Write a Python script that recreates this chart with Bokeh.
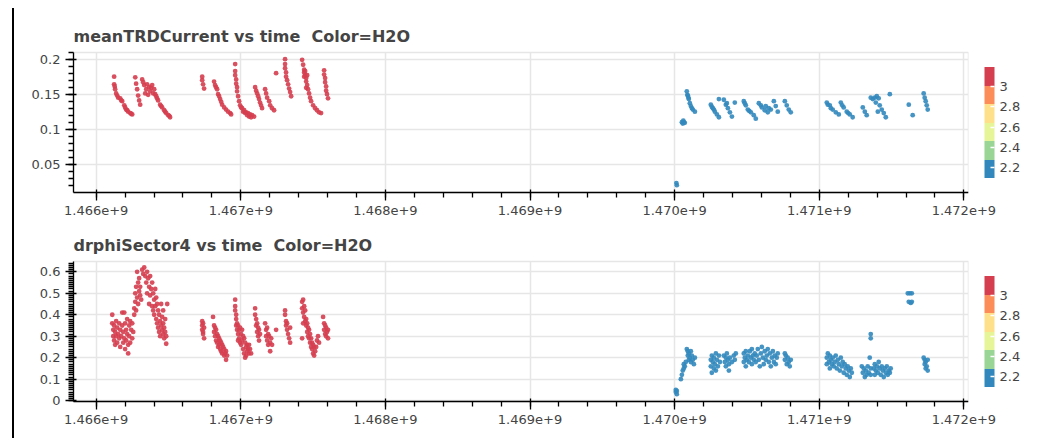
from bokeh.plotting import figure
from bokeh.models import (LinearColorMapper, ColorBar, Range1d, SingleIntervalTicker,
                          ColumnDataSource, Spacer)
from bokeh.layouts import column, row
from bokeh.palettes import Spectral6
from bokeh.embed import file_html
from bokeh.resources import INLINE

# time values are written in units of 1e6 s
TIME_UNIT = 1e6

# H2O level of each of the two runs, and the colour scale limits
H2O_RUN1 = 3.195
H2O_RUN2 = 2.095
H2O_LOW = 2.095
H2O_HIGH = 3.195

x_ticks_interval = 1e6

# meanTRDCurrent, run 1 (time, value)
current_run1 = [
    (1466.124, 0.176), (1466.124, 0.165), (1466.128, 0.162), (1466.131, 0.158), (1466.138, 0.152),
    (1466.145, 0.149), (1466.152, 0.146), (1466.166, 0.145), (1466.173, 0.142), (1466.180, 0.141),
    (1466.194, 0.135), (1466.200, 0.132), (1466.207, 0.129), (1466.214, 0.128), (1466.221, 0.126),
    (1466.235, 0.124), (1466.242, 0.123), (1466.249, 0.122),
    (1466.270, 0.175), (1466.276, 0.166), (1466.283, 0.158), (1466.290, 0.149), (1466.297, 0.142),
    (1466.304, 0.136),
    (1466.318, 0.172), (1466.325, 0.168), (1466.332, 0.164), (1466.339, 0.152), (1466.346, 0.158),
    (1466.352, 0.165), (1466.359, 0.150), (1466.366, 0.161), (1466.373, 0.155), (1466.380, 0.160),
    (1466.387, 0.164), (1466.394, 0.152), (1466.401, 0.158), (1466.408, 0.151), (1466.415, 0.148),
    (1466.421, 0.145), (1466.428, 0.142), (1466.442, 0.136), (1466.449, 0.134), (1466.456, 0.132),
    (1466.470, 0.128), (1466.477, 0.126), (1466.484, 0.124), (1466.498, 0.121), (1466.505, 0.120),
    (1466.511, 0.118),
    (1466.733, 0.176), (1466.733, 0.171), (1466.739, 0.165), (1466.746, 0.159),
    (1466.815, 0.169), (1466.822, 0.164), (1466.829, 0.161), (1466.836, 0.158), (1466.843, 0.151),
    (1466.850, 0.148), (1466.857, 0.144), (1466.864, 0.140), (1466.871, 0.136), (1466.885, 0.132),
    (1466.898, 0.129), (1466.912, 0.126), (1466.926, 0.124), (1466.933, 0.122),
    (1466.961, 0.194), (1466.961, 0.184), (1466.961, 0.178), (1466.968, 0.172), (1466.968, 0.166),
    (1466.974, 0.161), (1466.974, 0.155), (1466.981, 0.148), (1466.988, 0.141), (1466.995, 0.135),
    (1467.002, 0.132), (1467.009, 0.131), (1467.016, 0.126), (1467.023, 0.128), (1467.030, 0.124),
    (1467.037, 0.125), (1467.044, 0.121), (1467.050, 0.124), (1467.057, 0.119), (1467.064, 0.122),
    (1467.071, 0.118), (1467.078, 0.121), (1467.092, 0.119),
    (1467.099, 0.161), (1467.106, 0.156), (1467.113, 0.152), (1467.120, 0.148), (1467.126, 0.144),
    (1467.133, 0.139), (1467.140, 0.135), (1467.147, 0.131),
    (1467.168, 0.158), (1467.175, 0.152), (1467.182, 0.146), (1467.196, 0.141), (1467.203, 0.135),
    (1467.216, 0.131), (1467.230, 0.128),
    (1467.244, 0.181),
    (1467.306, 0.201), (1467.306, 0.194), (1467.306, 0.188), (1467.313, 0.182), (1467.313, 0.176),
    (1467.320, 0.171), (1467.327, 0.165), (1467.334, 0.159), (1467.341, 0.154), (1467.348, 0.148),
    (1467.424, 0.200), (1467.431, 0.193), (1467.438, 0.186), (1467.438, 0.182), (1467.438, 0.176),
    (1467.445, 0.184), (1467.445, 0.178), (1467.452, 0.174), (1467.452, 0.169), (1467.452, 0.160),
    (1467.459, 0.178), (1467.459, 0.164), (1467.465, 0.158), (1467.472, 0.152), (1467.479, 0.146),
    (1467.486, 0.141), (1467.500, 0.135), (1467.514, 0.131), (1467.527, 0.128), (1467.541, 0.125),
    (1467.555, 0.124),
    (1467.576, 0.185), (1467.576, 0.179), (1467.583, 0.174), (1467.583, 0.168), (1467.590, 0.162),
    (1467.590, 0.156), (1467.596, 0.151), (1467.603, 0.145),
]

# meanTRDCurrent, run 2 (time, value)
current_run2 = [
    (1470.015, 0.021), (1470.012, 0.024),
    (1470.050, 0.111), (1470.056, 0.109), (1470.063, 0.111), (1470.070, 0.110), (1470.060, 0.113),
    (1470.084, 0.155), (1470.088, 0.150), (1470.091, 0.149), (1470.095, 0.146), (1470.098, 0.144),
    (1470.105, 0.138), (1470.112, 0.134), (1470.119, 0.131), (1470.126, 0.129), (1470.140, 0.126),
    (1470.250, 0.136), (1470.257, 0.133), (1470.264, 0.131), (1470.271, 0.129), (1470.278, 0.126),
    (1470.292, 0.122), (1470.306, 0.118), (1470.306, 0.144),
    (1470.340, 0.143), (1470.354, 0.136), (1470.361, 0.138), (1470.368, 0.131), (1470.382, 0.125),
    (1470.396, 0.119), (1470.416, 0.139),
    (1470.478, 0.141), (1470.485, 0.138), (1470.492, 0.135), (1470.506, 0.129), (1470.516, 0.127),
    (1470.527, 0.125), (1470.547, 0.121), (1470.561, 0.116),
    (1470.582, 0.138), (1470.596, 0.135), (1470.603, 0.132), (1470.623, 0.128), (1470.630, 0.134),
    (1470.644, 0.125), (1470.651, 0.131), (1470.665, 0.129),
    (1470.686, 0.141), (1470.699, 0.134), (1470.713, 0.126),
    (1470.762, 0.141), (1470.775, 0.135), (1470.789, 0.129), (1470.803, 0.125),
    (1471.052, 0.139), (1471.059, 0.136), (1471.073, 0.135), (1471.080, 0.131), (1471.093, 0.129),
    (1471.114, 0.125), (1471.135, 0.122),
    (1471.149, 0.139), (1471.159, 0.135), (1471.169, 0.132), (1471.190, 0.126), (1471.200, 0.124),
    (1471.211, 0.122), (1471.231, 0.118),
    (1471.301, 0.132), (1471.315, 0.126), (1471.328, 0.121),
    (1471.356, 0.146), (1471.370, 0.144), (1471.384, 0.146), (1471.391, 0.139), (1471.398, 0.148),
    (1471.405, 0.126), (1471.411, 0.145), (1471.418, 0.135), (1471.432, 0.129), (1471.446, 0.124),
    (1471.460, 0.118),
    (1471.488, 0.151), (1471.619, 0.136), (1471.646, 0.121),
    (1471.722, 0.152), (1471.729, 0.146), (1471.736, 0.141), (1471.743, 0.135), (1471.750, 0.129),
]

# drphiSector4, run 1 (time, value)
drphi_run1 = [
    (1466.111, 0.40), (1466.111, 0.36), (1466.118, 0.33), (1466.118, 0.30), (1466.124, 0.35),
    (1466.124, 0.28), (1466.131, 0.32), (1466.131, 0.26), (1466.138, 0.37), (1466.138, 0.30),
    (1466.145, 0.34), (1466.145, 0.27), (1466.152, 0.31), (1466.159, 0.36), (1466.159, 0.29),
    (1466.166, 0.33), (1466.166, 0.25), (1466.173, 0.30), (1466.180, 0.41), (1466.180, 0.35),
    (1466.187, 0.32), (1466.187, 0.27), (1466.194, 0.41), (1466.194, 0.29), (1466.200, 0.36),
    (1466.200, 0.24), (1466.207, 0.33), (1466.207, 0.28), (1466.214, 0.38), (1466.214, 0.31),
    (1466.221, 0.26), (1466.221, 0.22), (1466.228, 0.35), (1466.228, 0.30), (1466.235, 0.37),
    (1466.235, 0.27), (1466.242, 0.33), (1466.249, 0.36), (1466.249, 0.29), (1466.256, 0.32),
    (1466.263, 0.40), (1466.263, 0.43), (1466.270, 0.46), (1466.270, 0.50), (1466.276, 0.53),
    (1466.276, 0.42), (1466.283, 0.60), (1466.283, 0.48), (1466.290, 0.55), (1466.290, 0.45),
    (1466.297, 0.51), (1466.297, 0.57), (1466.304, 0.49), (1466.304, 0.53), (1466.311, 0.47),
    (1466.318, 0.61), (1466.325, 0.59), (1466.332, 0.62), (1466.339, 0.58), (1466.346, 0.55),
    (1466.352, 0.60), (1466.352, 0.50), (1466.359, 0.57), (1466.366, 0.53), (1466.366, 0.45),
    (1466.373, 0.58), (1466.373, 0.49), (1466.380, 0.52), (1466.387, 0.55), (1466.387, 0.44),
    (1466.394, 0.50), (1466.394, 0.42), (1466.401, 0.47), (1466.401, 0.40), (1466.408, 0.52),
    (1466.408, 0.44), (1466.415, 0.48), (1466.415, 0.38), (1466.421, 0.45), (1466.421, 0.36),
    (1466.428, 0.42), (1466.428, 0.34), (1466.435, 0.40), (1466.435, 0.32), (1466.442, 0.37),
    (1466.442, 0.30), (1466.449, 0.35), (1466.449, 0.45), (1466.456, 0.33), (1466.456, 0.39),
    (1466.463, 0.31), (1466.463, 0.36), (1466.463, 0.42), (1466.470, 0.29), (1466.470, 0.34),
    (1466.477, 0.32), (1466.477, 0.38), (1466.484, 0.265), (1466.484, 0.30), (1466.491, 0.45),
    (1466.733, 0.37), (1466.733, 0.35), (1466.733, 0.33), (1466.739, 0.36), (1466.739, 0.32),
    (1466.739, 0.31), (1466.746, 0.34), (1466.746, 0.29),
    (1466.808, 0.39), (1466.815, 0.35), (1466.815, 0.32), (1466.822, 0.34), (1466.822, 0.30),
    (1466.829, 0.33), (1466.829, 0.28), (1466.836, 0.31), (1466.836, 0.27), (1466.843, 0.30),
    (1466.843, 0.25), (1466.850, 0.29), (1466.850, 0.26), (1466.857, 0.28), (1466.857, 0.24),
    (1466.864, 0.27), (1466.864, 0.23), (1466.871, 0.26), (1466.871, 0.22), (1466.878, 0.25),
    (1466.885, 0.24), (1466.885, 0.21), (1466.892, 0.22), (1466.898, 0.19), (1466.898, 0.23),
    (1466.905, 0.21),
    (1466.961, 0.47), (1466.961, 0.44), (1466.961, 0.42), (1466.968, 0.40), (1466.968, 0.38),
    (1466.968, 0.35), (1466.974, 0.36), (1466.974, 0.33), (1466.981, 0.35), (1466.981, 0.31),
    (1466.981, 0.28), (1466.988, 0.33), (1466.988, 0.29), (1466.995, 0.34), (1466.995, 0.27),
    (1467.002, 0.31), (1467.002, 0.26), (1467.009, 0.33), (1467.009, 0.28), (1467.016, 0.30),
    (1467.016, 0.24), (1467.023, 0.29), (1467.023, 0.22), (1467.030, 0.27), (1467.030, 0.20),
    (1467.037, 0.25), (1467.037, 0.21), (1467.044, 0.26), (1467.044, 0.23), (1467.050, 0.24),
    (1467.057, 0.22), (1467.057, 0.26), (1467.064, 0.24), (1467.071, 0.22),
    (1467.099, 0.43), (1467.099, 0.40), (1467.106, 0.38), (1467.106, 0.35), (1467.113, 0.36),
    (1467.113, 0.32), (1467.120, 0.34), (1467.120, 0.30), (1467.126, 0.33), (1467.126, 0.28),
    (1467.133, 0.31),
    (1467.168, 0.36), (1467.175, 0.33), (1467.175, 0.30), (1467.182, 0.34), (1467.182, 0.28),
    (1467.189, 0.31), (1467.189, 0.26), (1467.196, 0.30), (1467.203, 0.27), (1467.203, 0.23),
    (1467.210, 0.29), (1467.216, 0.26),
    (1467.244, 0.33),
    (1467.306, 0.42), (1467.306, 0.40), (1467.313, 0.37), (1467.313, 0.35), (1467.320, 0.36),
    (1467.320, 0.33), (1467.327, 0.31), (1467.334, 0.29), (1467.341, 0.34), (1467.341, 0.27),
    (1467.424, 0.46), (1467.431, 0.47), (1467.424, 0.43), (1467.431, 0.41), (1467.438, 0.44),
    (1467.438, 0.39), (1467.445, 0.42), (1467.445, 0.37), (1467.452, 0.38), (1467.452, 0.35),
    (1467.459, 0.36), (1467.459, 0.32), (1467.465, 0.34), (1467.465, 0.30), (1467.472, 0.33),
    (1467.472, 0.29), (1467.479, 0.31), (1467.479, 0.27), (1467.486, 0.29), (1467.486, 0.25),
    (1467.493, 0.27), (1467.493, 0.24), (1467.500, 0.26), (1467.500, 0.22), (1467.507, 0.25),
    (1467.507, 0.21), (1467.514, 0.23), (1467.521, 0.25), (1467.527, 0.28), (1467.534, 0.30),
    (1467.424, 0.29), (1467.431, 0.36), (1467.541, 0.27),
    (1467.569, 0.39), (1467.576, 0.36), (1467.576, 0.33), (1467.583, 0.35), (1467.583, 0.31),
    (1467.590, 0.34), (1467.590, 0.30), (1467.596, 0.32), (1467.603, 0.29), (1467.603, 0.33),
]

# drphiSector4, run 2 (time, value)
drphi_run2 = [
    (1470.008, 0.05), (1470.008, 0.04), (1470.015, 0.03), (1470.015, 0.045),
    (1470.043, 0.10), (1470.050, 0.12), (1470.056, 0.14), (1470.063, 0.15), (1470.063, 0.17),
    (1470.070, 0.16), (1470.077, 0.18),
    (1470.084, 0.24), (1470.091, 0.23), (1470.091, 0.21), (1470.098, 0.22), (1470.098, 0.19),
    (1470.105, 0.20), (1470.112, 0.23), (1470.112, 0.18), (1470.119, 0.21), (1470.126, 0.19),
    (1470.133, 0.17), (1470.140, 0.20),
    (1470.250, 0.19), (1470.250, 0.16), (1470.257, 0.21), (1470.257, 0.13), (1470.264, 0.18),
    (1470.271, 0.15), (1470.271, 0.20), (1470.278, 0.17), (1470.285, 0.22), (1470.285, 0.14),
    (1470.292, 0.19), (1470.299, 0.16), (1470.306, 0.21), (1470.313, 0.18),
    (1470.340, 0.21), (1470.347, 0.18), (1470.354, 0.20), (1470.354, 0.16), (1470.361, 0.22),
    (1470.368, 0.19), (1470.375, 0.17), (1470.375, 0.14), (1470.382, 0.20), (1470.396, 0.18),
    (1470.409, 0.21), (1470.416, 0.19), (1470.423, 0.22),
    (1470.478, 0.22), (1470.478, 0.18), (1470.485, 0.20), (1470.492, 0.23), (1470.492, 0.16),
    (1470.499, 0.19), (1470.506, 0.21), (1470.513, 0.18), (1470.520, 0.23), (1470.527, 0.20),
    (1470.534, 0.24), (1470.534, 0.17), (1470.541, 0.21), (1470.547, 0.19), (1470.554, 0.22),
    (1470.561, 0.18), (1470.568, 0.21), (1470.575, 0.24), (1470.582, 0.19), (1470.589, 0.16),
    (1470.596, 0.22), (1470.603, 0.25), (1470.610, 0.20), (1470.616, 0.17), (1470.623, 0.23),
    (1470.630, 0.19), (1470.637, 0.21), (1470.644, 0.24), (1470.651, 0.18), (1470.658, 0.22),
    (1470.665, 0.16), (1470.672, 0.20), (1470.679, 0.23), (1470.686, 0.18), (1470.692, 0.21),
    (1470.699, 0.17), (1470.706, 0.20), (1470.713, 0.22),
    (1470.762, 0.22), (1470.762, 0.19), (1470.769, 0.21), (1470.775, 0.17), (1470.782, 0.20),
    (1470.789, 0.18), (1470.796, 0.16), (1470.803, 0.19),
    (1471.052, 0.20), (1471.052, 0.17), (1471.059, 0.22), (1471.066, 0.18), (1471.073, 0.21),
    (1471.073, 0.15), (1471.080, 0.19), (1471.087, 0.17), (1471.093, 0.20), (1471.100, 0.16),
    (1471.107, 0.18), (1471.114, 0.21), (1471.121, 0.15), (1471.128, 0.19), (1471.135, 0.17),
    (1471.142, 0.14), (1471.149, 0.20), (1471.156, 0.16), (1471.162, 0.18), (1471.169, 0.13),
    (1471.176, 0.17), (1471.183, 0.15), (1471.190, 0.12), (1471.197, 0.16), (1471.204, 0.14),
    (1471.211, 0.11), (1471.218, 0.15), (1471.225, 0.13),
    (1471.294, 0.16), (1471.301, 0.13), (1471.308, 0.15), (1471.315, 0.11), (1471.322, 0.14),
    (1471.328, 0.12), (1471.335, 0.16), (1471.342, 0.13), (1471.349, 0.20), (1471.356, 0.15),
    (1471.356, 0.12), (1471.356, 0.31), (1471.356, 0.29),
    (1471.377, 0.15), (1471.384, 0.17), (1471.384, 0.12), (1471.391, 0.14), (1471.398, 0.16),
    (1471.405, 0.13), (1471.411, 0.18), (1471.418, 0.15), (1471.425, 0.12), (1471.432, 0.16),
    (1471.439, 0.14), (1471.446, 0.11), (1471.453, 0.15), (1471.460, 0.13), (1471.467, 0.16),
    (1471.474, 0.12), (1471.481, 0.14), (1471.488, 0.13), (1471.494, 0.15),
    (1471.612, 0.50), (1471.626, 0.50), (1471.640, 0.50), (1471.619, 0.46), (1471.633, 0.455),
    (1471.640, 0.46),
    (1471.722, 0.20), (1471.729, 0.19), (1471.729, 0.17), (1471.736, 0.18), (1471.736, 0.15),
    (1471.743, 0.16), (1471.750, 0.14), (1471.750, 0.19),
]

FONT = "DejaVu Sans"
TEXT_COLOR = "#444444"

mapper = LinearColorMapper(palette=Spectral6, low=H2O_LOW, high=H2O_HIGH)


def make_source(runs):
    t, v, h = [], [], []
    for pts, h2o in runs:
        for a, b in pts:
            t.append(a * TIME_UNIT)
            v.append(b)
            h.append(h2o)
    return ColumnDataSource(dict(time=t, value=v, H2O=h))


def make_fig(title, src, y_start, y_end, y_interval, y_minor, border_top, border_bottom):
    p = figure(title=title, frame_width=895, frame_height=140,
               x_range=Range1d(1465.843e6, 1472.032e6), y_range=Range1d(y_start, y_end),
               output_backend="svg", toolbar_location=None,
               min_border_left=59, min_border_right=75,
               min_border_top=border_top, min_border_bottom=border_bottom)
    p.scatter("time", "value", source=src, size=4.8,
              fill_color={"field": "H2O", "transform": mapper},
              line_color=None, fill_alpha=0.9)
    p.title.text_font = FONT
    p.title.text_font_size = "16px"
    p.title.text_font_style = "bold"
    p.title.text_color = TEXT_COLOR
    p.title.standoff = 14
    p.xaxis.ticker = SingleIntervalTicker(interval=x_ticks_interval, num_minor_ticks=5)
    p.yaxis.ticker = SingleIntervalTicker(interval=y_interval, num_minor_ticks=y_minor)
    for ax in (p.xaxis, p.yaxis):
        ax.major_label_text_font = FONT
        ax.major_label_text_font_size = "13px"
        ax.major_label_text_color = TEXT_COLOR
        ax.major_tick_in = 3
        ax.major_tick_out = 8
        ax.minor_tick_out = 5
        ax.axis_line_width = 1.3
        ax.major_tick_line_width = 1.3
        ax.minor_tick_line_width = 1.3
    p.grid.grid_line_color = "#e6e6e6"
    p.grid.grid_line_width = 1.5
    p.outline_line_color = "#e6e6e6"
    p.outline_line_width = 1.5
    cb = ColorBar(color_mapper=mapper, width=10, height=111, location="center_left",
                  padding=16, margin=10,
                  major_label_text_font=FONT, major_label_text_font_size="13px",
                  major_label_text_color=TEXT_COLOR, major_label_text_align="center",
                  bar_line_color=None,
                  major_tick_line_color="white", major_tick_in=4, major_tick_line_width=1.3)
    p.add_layout(cb, "right")
    return p


src_top = make_source([(current_run1, H2O_RUN1), (current_run2, H2O_RUN2)])
src_bot = make_source([(drphi_run1, H2O_RUN1), (drphi_run2, H2O_RUN2)])

p1 = make_fig("meanTRDCurrent vs time\u00a0 Color=H2O", src_top, 0.0105, 0.2105, 0.05, 5, 52, 34)
p2 = make_fig("drphiSector4 vs time\u00a0 Color=H2O", src_bot, -0.004, 0.648, 0.1, 10, 30, 37)

line = Spacer(width=2, height=430, margin=(8, 0, 0, 0), styles={"background-color": "#000000"})
layout = row(Spacer(width=12, height=10), line, column(p1, p2))

open("out.html", "w").write(file_html(layout, INLINE))
